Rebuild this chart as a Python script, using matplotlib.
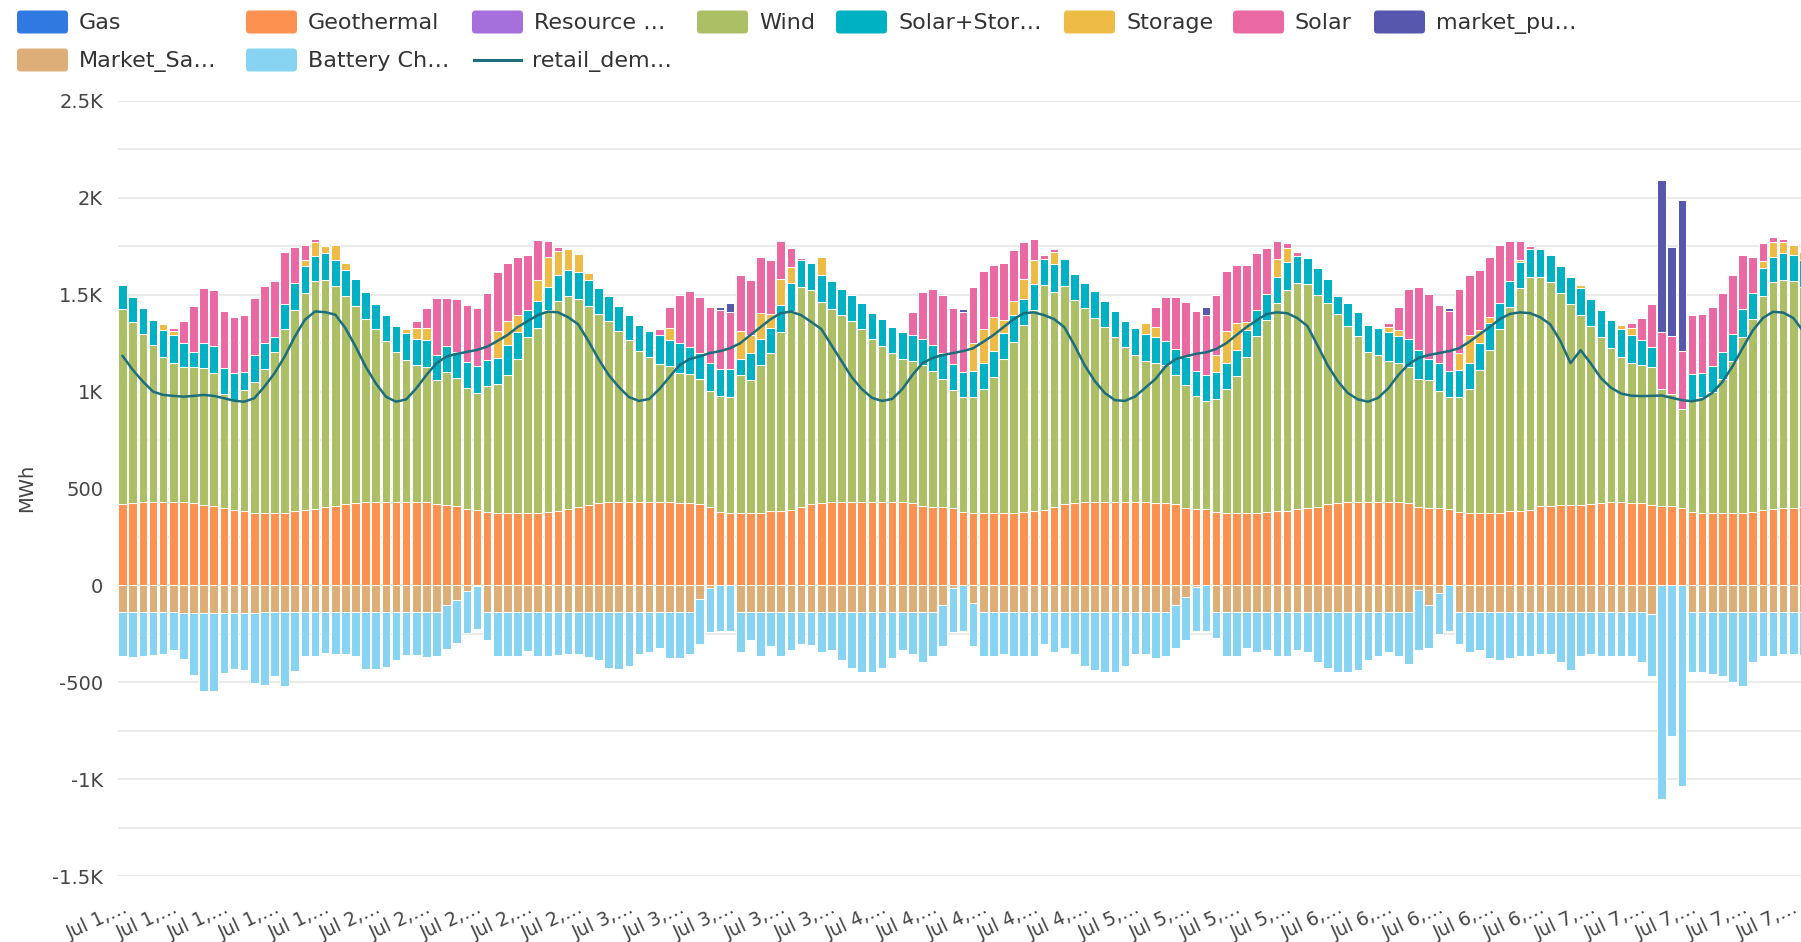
import numpy as np
import matplotlib
matplotlib.use("Agg")
import matplotlib.pyplot as plt
from matplotlib.patches import FancyBboxPatch
from matplotlib.lines import Line2D

plt.rcParams['font.family'] = ['DejaVu Sans']

# ---------------- data (hourly, Jul 1 00:00 ... Jul 7 23:00) ----------------
gas = [0] * 168
resource = [0] * 168

geothermal = [
    419, 424, 428, 431, 431, 431, 429, 426, 414, 410, 400, 388, 386, 376, 375, 375, 376, 384, 388, 396, 402, 410, 420, 426,
    428, 431, 431, 431, 431, 430, 428, 420, 414, 410, 395, 390, 378, 375, 375, 375, 375, 376, 378, 385, 395, 406, 415, 426,
    428, 430, 431, 431, 431, 430, 428, 426, 424, 420, 406, 380, 376, 375, 375, 376, 382, 386, 390, 406, 420, 426, 428, 430,
    430, 431, 431, 431, 430, 428, 426, 410, 406, 404, 400, 378, 376, 375, 375, 375, 376, 378, 385, 388, 406, 420, 426, 428,
    428, 430, 431, 431, 430, 428, 426, 426, 422, 400, 395, 392, 378, 376, 375, 375, 376, 380, 382, 385, 395, 398, 405, 420,
    426, 428, 430, 431, 431, 430, 428, 426, 405, 400, 398, 395, 378, 376, 375, 375, 376, 384, 386, 388, 410, 412, 414, 416,
    414, 418, 426, 428, 428, 426, 426, 414, 412, 410, 400, 378, 376, 375, 375, 375, 376, 378, 390, 395, 398, 400, 402, 405]

wind = [
    1007, 933, 870, 810, 750, 716, 700, 700, 707, 688, 588, 571, 623, 676, 741, 832, 946, 1038, 1121, 1173, 1176, 1133, 1075, 1017,
    948, 891, 828, 771, 733, 709, 701, 640, 689, 659, 622, 605, 652, 665, 711, 793, 906, 952, 1041, 1082, 1096, 1071, 1027, 973,
    936, 882, 834, 778, 747, 715, 705, 670, 668, 645, 597, 596, 596, 710, 684, 761, 818, 920, 1025, 1133, 1105, 1037, 998, 965,
    934, 892, 840, 805, 769, 740, 732, 727, 700, 661, 609, 594, 596, 638, 700, 793, 882, 967, 1037, 1160, 1110, 1123, 1047, 1004,
    952, 903, 850, 799, 759, 730, 721, 711, 664, 634, 581, 560, 584, 637, 706, 803, 909, 988, 1074, 1139, 1164, 1155, 1093, 1036,
    975, 911, 855, 772, 758, 728, 719, 701, 660, 659, 605, 577, 594, 637, 735, 840, 947, 1052, 1147, 1206, 1184, 1154, 1094, 1034,
    981, 921, 855, 796, 750, 721, 711, 711, 602, 578, 511, 579, 594, 625, 690, 783, 905, 996, 1101, 1171, 1176, 1170, 1138, 1095]

solar_storage = [
    126, 131, 133, 130, 138, 147, 121, 81, 129, 135, 133, 136, 94, 138, 134, 77, 131, 138, 138, 133, 138, 138, 134, 138,
    136, 131, 138, 138, 141, 131, 138, 130, 133, 138, 138, 135, 135, 135, 154, 142, 139, 140, 120, 133, 136, 138, 132, 134,
    127, 130, 130, 134, 134, 145, 132, 154, 138, 134, 144, 140, 144, 83, 141, 134, 130, 140, 145, 138, 140, 138, 144, 133,
    133, 133, 134, 138, 134, 142, 132, 134, 134, 134, 132, 128, 134, 134, 134, 134, 138, 134, 134, 138, 142, 140, 134, 130,
    139, 134, 134, 134, 138, 140, 134, 124, 134, 144, 130, 134, 138, 134, 134, 142, 134, 137, 134, 145, 141, 136, 138, 124,
    90, 117, 124, 140, 138, 150, 138, 144, 150, 109, 144, 134, 138, 137, 140, 138, 133, 134, 136, 141, 141, 138, 140, 140,
    138, 138, 140, 144, 144, 145, 128, 105, 0, 0, 0, 133, 126, 133, 138, 140, 144, 134, 145, 131, 140, 134, 140, 140]

storage = [
    0, 0, 0, 0, 29, 18, 0, 0, 0, 0, 0, 0, 0, 0, 0, 0, 0, 0, 34, 69, 34, 74, 35, 0,
    0, 0, 0, 0, 17, 60, 61, 0, 0, 0, 0, 0, 0, 140, 124, 85, 0, 110, 154, 125, 107, 93, 37, 0,
    0, 0, 0, 0, 0, 0, 62, 0, 0, 0, 0, 0, 0, 144, 90, 133, 70, 134, 82, 0, 0, 92, 0, 0,
    0, 0, 0, 0, 0, 0, 0, 0, 0, 0, 0, 0, 144, 176, 175, 68, 72, 103, 124, 0, 64, 0, 0, 0,
    0, 0, 0, 0, 0, 55, 53, 0, 0, 0, 0, 0, 89, 165, 138, 40, 0, 0, 93, 70, 0, 0, 0, 0,
    0, 0, 0, 0, 0, 27, 31, 0, 0, 0, 0, 0, 90, 140, 70, 34, 0, 0, 11, 0, 0, 0, 0, 0,
    16, 0, 0, 0, 21, 36, 0, 0, 0, 0, 0, 0, 0, 0, 0, 0, 0, 0, 37, 75, 58, 55, 40, 0]

solar = [
    0, 0, 0, 0, 0, 18, 112, 236, 284, 289, 293, 289, 293, 293, 297, 288, 268, 185, 78, 17, 9, 0, 0, 0,
    0, 0, 0, 0, 0, 32, 103, 293, 247, 271, 290, 300, 343, 305, 298, 298, 283, 203, 87, 20, 0, 0, 0, 0,
    0, 0, 0, 0, 0, 33, 109, 248, 288, 288, 289, 305, 293, 289, 284, 289, 277, 196, 101, 13, 0, 0, 0, 0,
    0, 0, 0, 0, 0, 0, 119, 241, 288, 299, 289, 309, 289, 298, 272, 292, 261, 192, 107, 20, 16, 0, 0, 0,
    0, 0, 0, 0, 0, 0, 102, 226, 267, 285, 309, 309, 309, 309, 303, 296, 295, 234, 97, 26, 20, 0, 0, 0,
    0, 0, 0, 0, 0, 18, 120, 257, 324, 334, 299, 309, 328, 310, 307, 310, 299, 210, 100, 15, 7, 0, 0, 0,
    0, 0, 0, 0, 0, 25, 115, 220, 292, 301, 300, 305, 305, 303, 305, 302, 279, 185, 92, 24, 14, 0, 0, 0]

market_purchases = [
    0, 0, 0, 0, 0, 0, 0, 0, 0, 0, 0, 0, 0, 0, 0, 0, 0, 0, 0, 0, 0, 0, 0, 0,
    0, 0, 0, 0, 0, 0, 0, 0, 0, 0, 0, 0, 0, 0, 0, 0, 0, 0, 0, 0, 0, 0, 0, 0,
    0, 0, 0, 0, 0, 0, 0, 0, 0, 0, 0, 15, 47, 0, 0, 0, 0, 0, 0, 0, 0, 0, 0, 0,
    0, 0, 0, 0, 0, 0, 0, 0, 0, 0, 0, 16, 0, 0, 0, 0, 0, 0, 0, 0, 0, 0, 0, 0,
    0, 0, 0, 0, 0, 0, 0, 0, 0, 0, 0, 41, 0, 0, 0, 0, 0, 0, 0, 0, 0, 0, 0, 0,
    0, 0, 0, 0, 0, 0, 0, 0, 0, 0, 0, 15, 0, 0, 0, 0, 0, 0, 0, 0, 0, 0, 0, 0,
    0, 0, 0, 0, 0, 0, 0, 0, 784, 456, 779, 0, 0, 0, 0, 0, 0, 0, 0, 0, 0, 0, 0, 0]

market_sales = [
    -135, -135, -135, -135, -135, -135, -145, -145, -145, -145, -145, -145, -145, -145, -135, -135, -135, -135, -135, -135, -135, -135, -135, -135,
    -135, -135, -135, -135, -135, -135, -135, -136, -102, -73, -29, -5, -135, -135, -135, -135, -135, -135, -135, -135, -135, -135, -135, -135,
    -135, -135, -135, -135, -135, -135, -135, -135, -135, -68, -16, 0, 0, -135, -135, -135, -135, -135, -135, -135, -135, -135, -135, -135,
    -135, -135, -135, -135, -135, -135, -135, -135, -135, -99, -16, 0, -89, -135, -135, -135, -135, -135, -135, -135, -135, -135, -135, -135,
    -135, -135, -135, -135, -135, -135, -135, -135, -99, -58, -6, 0, -135, -135, -135, -135, -135, -135, -135, -135, -135, -135, -135, -135,
    -135, -135, -135, -135, -135, -135, -135, -135, -25, -99, -37, 0, -135, -135, -135, -135, -135, -135, -135, -135, -135, -135, -135, -135,
    -135, -135, -135, -135, -135, -135, -135, -150, 0, 0, 0, -135, -135, -135, -135, -135, -135, -135, -135, -135, -135, -135, -135, -135]

battery_charging = [
    -228, -235, -232, -223, -220, -201, -235, -319, -401, -401, -307, -285, -290, -358, -377, -334, -385, -305, -232, -228, -215, -220, -220, -228,
    -297, -297, -286, -249, -223, -223, -237, -227, -227, -222, -218, -222, -146, -228, -228, -228, -205, -228, -230, -223, -221, -221, -235, -252,
    -289, -298, -283, -221, -211, -186, -242, -242, -221, -233, -227, -233, -233, -211, -149, -232, -180, -232, -201, -170, -175, -211, -201, -252,
    -289, -310, -310, -289, -242, -201, -221, -263, -232, -216, -227, -233, -226, -232, -232, -221, -232, -232, -232, -170, -211, -190, -221, -283,
    -304, -314, -314, -283, -221, -221, -242, -232, -226, -226, -227, -233, -139, -232, -232, -190, -211, -201, -232, -232, -201, -211, -263, -293,
    -314, -314, -304, -252, -232, -211, -232, -273, -310, -226, -216, -233, -170, -211, -201, -242, -252, -242, -232, -232, -221, -221, -263, -304,
    -232, -221, -232, -232, -232, -232, -263, -320, -1105, -779, -1036, -314, -314, -324, -335, -365, -386, -263, -232, -232, -221, -221, -225, -225]

retail_demand = [
    1184, 1112, 1052, 1000, 983, 978, 974, 978, 983, 978, 966, 953, 948, 966, 1026, 1095, 1181, 1284, 1371, 1414, 1410, 1397, 1328, 1233,
    1129, 1043, 974, 948, 960, 1017, 1086, 1147, 1181, 1195, 1205, 1215, 1232, 1261, 1292, 1333, 1364, 1395, 1413, 1409, 1384, 1347, 1261, 1168,
    1086, 1024, 972, 952, 962, 1013, 1075, 1137, 1168, 1182, 1199, 1209, 1224, 1250, 1292, 1333, 1374, 1405, 1413, 1395, 1360, 1323, 1240, 1158,
    1075, 1013, 968, 952, 962, 1013, 1086, 1147, 1174, 1189, 1199, 1209, 1224, 1257, 1292, 1333, 1374, 1405, 1409, 1395, 1374, 1333, 1240, 1137,
    1055, 993, 956, 952, 975, 1020, 1065, 1130, 1168, 1182, 1195, 1203, 1220, 1250, 1292, 1333, 1368, 1401, 1409, 1405, 1380, 1339, 1240, 1137,
    1055, 993, 960, 948, 968, 1017, 1086, 1141, 1174, 1189, 1199, 1209, 1224, 1257, 1295, 1333, 1374, 1401, 1409, 1405, 1384, 1347, 1261, 1147,
    1214, 1145, 1070, 1020, 990, 979, 977, 978, 980, 968, 956, 950, 960, 994, 1050, 1131, 1225, 1316, 1380, 1412, 1408, 1380, 1311, 1240]

x_tick_labels = (["Jul 1,…"] * 5 + ["Jul 2,…"] * 5 + ["Jul 3,…"] * 5 + ["Jul 4,…"] * 5
                 + ["Jul 5,…"] * 4 + ["Jul 6,…"] * 5 + ["Jul 7,…"] * 5)
y_ticks = [-1500, -1000, -500, 0, 500, 1000, 1500, 2000, 2500]
y_tick_labels = ["-1.5K", "-1K", "-500", "0", "500", "1K", "1.5K", "2K", "2.5K"]

# ---------------- figure ----------------
W, H = 1801, 942
fig = plt.figure(figsize=(W / 100, H / 100), dpi=100)
ax = fig.add_axes([117.6 / W, 1 - 876 / H, 1701 / W, 775 / H])

N = len(geothermal)
x = np.arange(N)

pos_series = [
    ("Gas", gas, "#3079E0"),
    ("Geothermal", geothermal, "#FD914F"),
    ("Resource …", resource, "#A570DB"),
    ("Wind", wind, "#ADBF64"),
    ("Solar+Stor…", solar_storage, "#00B0C3"),
    ("Storage", storage, "#EEBC46"),
    ("Solar", solar, "#EA69A3"),
    ("market_pu…", market_purchases, "#5558AC"),
]
neg_series = [
    ("Market_Sa…", market_sales, "#DDAF78"),
    ("Battery Ch…", battery_charging, "#86D4F2"),
]
line_color = "#1C6E7C"

bw = 0.85
elw = 0.75
bottom = np.zeros(N)
for name, vals, col in pos_series:
    v = np.asarray(vals, float)
    m = v != 0
    if m.any():
        ax.bar(x[m], v[m], bottom=bottom[m], width=bw, color=col,
               edgecolor="white", linewidth=elw, zorder=2)
    bottom += v

nbottom = np.zeros(N)
for name, vals, col in neg_series:
    v = np.asarray(vals, float)
    m = v != 0
    if m.any():
        ax.bar(x[m], v[m], bottom=nbottom[m], width=bw, color=col,
               edgecolor="white", linewidth=elw, zorder=2)
    nbottom += v

ax.plot(x, retail_demand, color=line_color, lw=1.8, zorder=3, solid_joinstyle="round")

ax.set_xlim(-0.5, N - 0.5)
ax.set_ylim(-1500, 2500)
ax.set_yticks(y_ticks)
ax.set_yticklabels(y_tick_labels)
ax.set_yticks(np.arange(-1250, 2500, 500), minor=True)
ax.grid(axis="y", which="both", color="#E4E4E4", lw=1.1, zorder=0)
ax.set_axisbelow(True)
for s in ax.spines.values():
    s.set_visible(False)

ax.tick_params(axis="y", which="both", length=0, pad=10.5, labelsize=14, labelcolor="#444444")
ax.tick_params(axis="x", length=0, pad=16, labelsize=13.5, labelcolor="#444444")
ax.set_xticks(np.arange(0, N, 5))
ax.set_xticklabels(x_tick_labels)
for lab in ax.get_xticklabels():
    lab.set_rotation(25)
    lab.set_ha("right")
    lab.set_va("top")
    lab.set_rotation_mode("anchor")

fig.text(27 / W, 1 - 488 / H, "MWh", rotation=90, ha="center", va="center",
         fontsize=14, color="#444444")

# ---------------- legend (manual, two rows) ----------------
def px(xp, yp):
    return xp / 100.0, (H - yp) / 100.0

legend_items = [
    # (label, color, kind, patch_left_px, row_center_y_px)
    ("Gas", "#3079E0", "box", 17, 22),
    ("Geothermal", "#FD914F", "box", 246, 22),
    ("Resource …", "#A570DB", "box", 472, 22),
    ("Wind", "#ADBF64", "box", 697, 22),
    ("Solar+Stor…", "#00B0C3", "box", 836, 22),
    ("Storage", "#EEBC46", "box", 1064, 22),
    ("Solar", "#EA69A3", "box", 1233, 22),
    ("market_pu…", "#5558AC", "box", 1374, 22),
    ("Market_Sa…", "#DDAF78", "box", 17, 60),
    ("Battery Ch…", "#86D4F2", "box", 246, 60),
    ("retail_dem…", line_color, "line", 474, 60),
]
pw, ph = 51, 23
for label, col, kind, lx, cy in legend_items:
    if kind == "box":
        x0, y0 = px(lx, cy + ph / 2)
        patch = FancyBboxPatch((x0, y0), pw / 100, ph / 100,
                               boxstyle="round,pad=0,rounding_size=0.035",
                               transform=fig.dpi_scale_trans, facecolor=col,
                               edgecolor="none")
        fig.add_artist(patch)
        tx = lx + 62
    else:
        xa, ya = px(lx, cy)
        xb, _ = px(lx + 47, cy)
        fig.add_artist(Line2D([xa, xb], [ya, ya], transform=fig.dpi_scale_trans,
                              color=col, lw=2.2))
        tx = lx + 58
    tx_in, ty_in = px(tx, cy + 1)
    fig.text(tx_in, ty_in, label, transform=fig.dpi_scale_trans, ha="left",
             va="center", fontsize=16, color="#333333")

fig.savefig("out.png", dpi=100)
